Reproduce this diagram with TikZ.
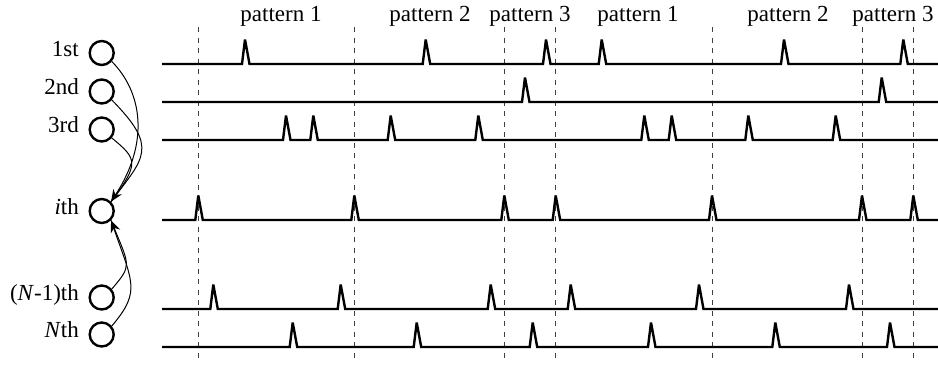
\documentclass[tikz,border=0pt]{standalone}
\usepackage{fontspec}
\setmainfont{Liberation Serif}
\usetikzlibrary{arrows.meta}

% one spike train: baseline at y=#1, spikes with apex at each x of #2
\newcommand\spikerow[2]{%
  \draw[wave] (162,#1) \foreach \a in {#2} {
      -- ({\a-3},#1) -- (\a,{#1-24.5}) -- ({\a+4.5},#1) } -- (938,#1);}

\begin{document}
\begin{tikzpicture}[x=1pt,y=-1pt,
  lbl/.style={font=\fontsize{23}{27}\selectfont, inner sep=0pt},
  unit/.style={circle, draw, line width=2.4pt, minimum size=24pt, inner sep=0pt},
  wave/.style={line width=2.4pt, line join=miter, miter limit=3},
  marker/.style={black!75, line width=0.9pt, dash pattern=on 5pt off 5.5pt},
  link/.style={line width=1pt},
  tip/.style={-{Stealth[length=12pt,width=10pt]}}]

\useasboundingbox (0,0) rectangle (938,368);

% neurons
\node[unit] (u1)  at (101.7,53)    {};
\node[unit] (u2)  at (101.7,91.5)  {};
\node[unit] (u3)  at (101.7,129.5) {};
\node[unit] (ui)  at (101.7,211)   {};
\node[unit] (uN1) at (101.7,297.5) {};
\node[unit] (uN)  at (101.7,334.5) {};

% neuron labels
\node[lbl, anchor=base east] (l1)  at (79,56)    {1st};
\node[lbl, anchor=base east] (l2)  at (79,94.5)  {2nd};
\node[lbl, anchor=base east] (l3)  at (79,132.5) {3rd};
\node[lbl, anchor=base east] (li)  at (79,214)   {\textit{i}th};
\node[lbl, anchor=base east] (lN1) at (79,300.5) {(\textit{N}-1)th};
\node[lbl, anchor=base east] (lN)  at (79,337.5) {\textit{N}th};

% pattern boundaries
\foreach \x in {198.3,354.3,504.3,555.7,712,862,913.3}
  \draw[marker] (\x,27) -- (\x,362);

% pattern names
\node[lbl, anchor=base] (p1a) at (281,21) {pattern 1};
\node[lbl, anchor=base] (p2a) at (430,21) {pattern 2};
\node[lbl, anchor=base] (p3a) at (530,21) {pattern 3};
\node[lbl, anchor=base] (p1b) at (638,21) {pattern 1};
\node[lbl, anchor=base] (p2b) at (788,21) {pattern 2};
\node[lbl, anchor=base] (p3b) at (893,21) {pattern 3};

% spike trains
\spikerow{64}{245,425.7,546,601.7,784,903.3}
\spikerow{102}{525,881.7}
\spikerow{140}{286,313.3,390.7,478.3,644.3,671.7,748.3,835.7}
\spikerow{220}{198.3,354.3,504.3,555.7,712,862,913.3}
\spikerow{309}{213.3,340.7,490.7,570.7,699,849}
\spikerow{347}{292.7,416.7,532.7,651,775.3,890}

% converging connections onto the i-th neuron
\draw[link,tip] (u1.-40) .. controls (142,92) and (150,142) .. (ui.45);
\draw[link] (u2.-40) .. controls (159,148) and (144.3,157.4) .. (ui.45);
\draw[link] (u3.-40) .. controls (137,158.7) and (140,163) .. (ui.45);
\draw[link,tip] (uN1.40) .. controls (132,265.4) and (129.8,266.3) .. (ui.-45);
\draw[link] (uN.40) .. controls (142.2,290) and (132.1,282.6) .. (ui.-45);
\end{tikzpicture}
\end{document}
